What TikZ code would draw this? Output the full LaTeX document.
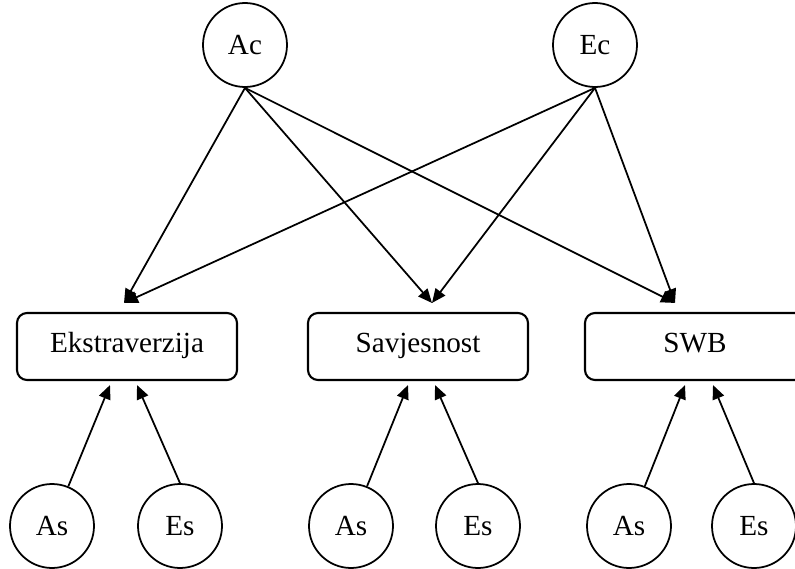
\documentclass[tikz,border=0pt]{standalone}
\usepackage{fontspec}
\setmainfont{Liberation Serif}
\usetikzlibrary{arrows.meta}

\tikzset{
  latent/.style={draw, circle, line width=1pt, minimum size=1.68cm, inner sep=0pt},
  trait/.style={draw, rounded corners=0.2cm, line width=1.2pt, minimum width=4.4cm, minimum height=1.34cm,
    text height=1.6ex, text depth=0.15ex},
  effect/.style={line width=1pt, -{Triangle[length=0.28cm,width=0.24cm]}}
}

\begin{document}
\begin{tikzpicture}[font=\fontsize{16.6}{20}\selectfont]
        \useasboundingbox (0,0) rectangle (15.9,11.36);

        % Draw the common factors
        \node[latent] (Ac) at (4.90,10.46) {Ac};
        \node[latent] (Ec) at (11.90,10.46) {Ec};

        % Draw the observed traits
        \node[trait] (ekstra) at (2.54,4.43) {Ekstraverzija};
        \node[trait] (savj) at (8.36,4.43) {Savjesnost};
        \node[trait] (swb) at (13.90,4.43) {SWB};

        % Draw the specific factors
        \node[latent] (as1) at (1.04,0.84) {As};
        \node[latent] (es1) at (3.60,0.84) {Es};
        \node[latent] (as2) at (7.02,0.84) {As};
        \node[latent] (es2) at (9.56,0.84) {Es};
        \node[latent] (as3) at (12.58,0.84) {As};
        \node[latent] (es3) at (15.08,0.84) {Es};

        % Arrow ends above and below the traits
        \coordinate (ekstraTop) at ([xshift=-0.06cm,yshift=0.18cm]ekstra.north);
        \coordinate (savjTop) at ([xshift=0.28cm,yshift=0.18cm]savj.north);
        \coordinate (swbTop) at ([xshift=-0.40cm,yshift=0.18cm]swb.north);
        \coordinate (ekstraA) at ([xshift=-0.34cm,yshift=-0.08cm]ekstra.south);
        \coordinate (ekstraE) at ([xshift=0.20cm,yshift=-0.08cm]ekstra.south);
        \coordinate (savjA) at ([xshift=-0.20cm,yshift=-0.08cm]savj.south);
        \coordinate (savjE) at ([xshift=0.34cm,yshift=-0.08cm]savj.south);
        \coordinate (swbA) at ([xshift=-0.20cm,yshift=-0.08cm]swb.south);
        \coordinate (swbE) at ([xshift=0.36cm,yshift=-0.08cm]swb.south);

        % Draw the paths from the common factors
        \draw[effect] (Ac.south) -- (ekstraTop);
        \draw[effect] (Ac.south) -- (savjTop);
        \draw[effect] (Ac.south) -- (swbTop);
        \draw[effect] (Ec.south) -- (ekstraTop);
        \draw[effect] (Ec.south) -- (savjTop);
        \draw[effect] (Ec.south) -- (swbTop);

        % Draw the paths from the specific factors
        \draw[effect] (as1) -- (ekstraA);
        \draw[effect] (es1.north) -- (ekstraE);
        \draw[effect] (as2) -- (savjA);
        \draw[effect] (es2.north) -- (savjE);
        \draw[effect] (as3) -- (swbA);
        \draw[effect] (es3.north) -- (swbE);

    \end{tikzpicture}
\end{document}
